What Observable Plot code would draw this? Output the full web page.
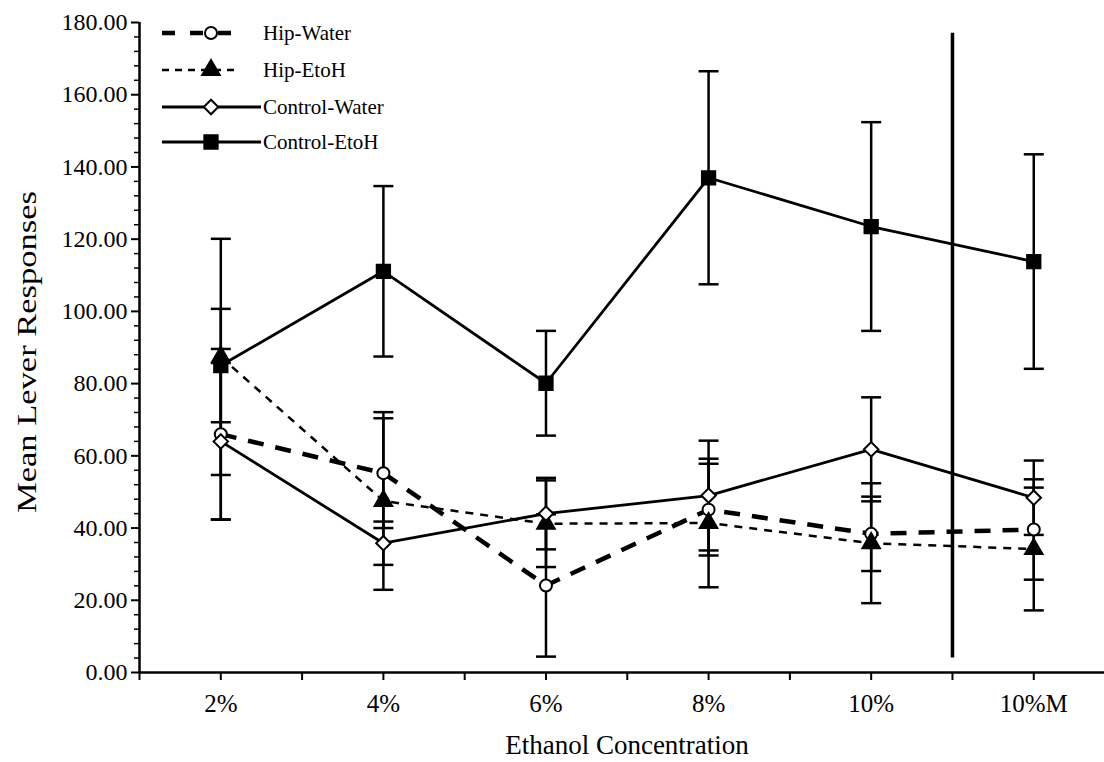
<!DOCTYPE html>
<html>
<head>
<meta charset="utf-8">
<script src="https://cdn.jsdelivr.net/npm/d3@7"></script>
<script src="https://cdn.jsdelivr.net/npm/@observablehq/plot@0.6"></script>
<style>
  html, body { margin: 0; padding: 0; background: #fff; }
  svg { display: block; }
</style>
</head>
<body>
<div id="chart"></div>
<script>
// ---- data ----
const categories = ["2%", "4%", "6%", "8%", "10%", "10%M"];
const seriesNames = ["Hip-Water", "Hip-EtoH", "Control-Water", "Control-EtoH"];
const hipWater        = [66.0, 55.2, 24.1, 45.1, 38.4, 39.6];
const hipWaterErr     = [23.6, 15.2, 19.7, 12.7, 10.3, 13.9];
const hipEtoh         = [87.4, 47.5, 41.2, 41.4, 35.8, 34.2];
const hipEtohErr      = [32.7, 24.6, 12.0, 17.8, 16.6, 17.0];
const controlWater    = [64.0, 35.8, 44.0, 49.0, 61.8, 48.4];
const controlWaterErr = [21.7, 6.0, 9.9, 15.2, 14.4, 10.3];
const controlEtoh     = [85.0, 111.1, 80.1, 137.0, 123.5, 113.8];
const controlEtohErr  = [15.7, 23.6, 14.5, 29.5, 28.9, 29.7];
const yTicks = [0, 20, 40, 60, 80, 100, 120, 140, 160, 180];
const xTitle = "Ethanol Concentration";
const yTitle = "Mean Lever Responses";
const dividerPosition = 4.5;      // between "10%" and "10%M"
const dividerExtent = [4, 177];

// ---- styles ----
const styles = {
  "Hip-Water":     {dash: "16,12", width: 4.5, symbol: "circle",   fill: "white", r: 6},
  "Hip-EtoH":      {dash: "8,7",   width: 2.5, symbol: "triangle", fill: "black", r: 6.5},
  "Control-Water": {dash: null,    width: 2.8, symbol: "diamond2", fill: "white", r: 6.5},
  "Control-EtoH":  {dash: null,    width: 2.8, symbol: "square",   fill: "black", r: 7.5}
};
const allValues = [hipWater, hipEtoh, controlWater, controlEtoh];
const allErrors = [hipWaterErr, hipEtohErr, controlWaterErr, controlEtohErr];

const rows = [];
seriesNames.forEach((s, k) => categories.forEach((c, i) => {
  rows.push({series: s, i, cat: c, v: allValues[k][i], e: allErrors[k][i]});
}));

const capSymbol = {
  draw(context, size) {
    const r = Math.sqrt(size / Math.PI);
    context.moveTo(-r, 0);
    context.lineTo(r, 0);
  }
};

const font = "'Liberation Serif', 'Times New Roman', serif";

const marks = [];
marks.push(Plot.ruleX([-0.5], {y1: 0, y2: 180, stroke: "black", strokeWidth: 2.5}));
marks.push(Plot.axisY({ticks: yTicks, tickFormat: d3.format(".2f"), tickSize: 8, tickPadding: 4,
  fontSize: 24, label: null, strokeWidth: 2}));
marks.push(Plot.axisY({ticks: d3.range(0, 181, 4).filter(v => v % 20 !== 0), tickFormat: () => "",
  tickSize: 5, label: null, strokeWidth: 1.5}));
marks.push(Plot.axisX({ticks: d3.range(-0.5, 5.01, 0.5),
  tickFormat: d => Number.isInteger(d) ? categories[d] : "",
  tickSize: 8, tickPadding: 14, fontSize: 25, label: null, strokeWidth: 2}));
marks.push(Plot.ruleY([0], {x1: -0.5, x2: 5.5, stroke: "black", strokeWidth: 2.5}));

marks.push(Plot.ruleX([dividerPosition], {y1: dividerExtent[0], y2: dividerExtent[1], stroke: "black", strokeWidth: 3.5}));

// error bars
marks.push(Plot.ruleX(rows, {x: "i", y1: d => d.v - d.e, y2: d => d.v + d.e, stroke: "black", strokeWidth: 2.5}));
marks.push(Plot.dot(rows, {x: "i", y: d => d.v + d.e, symbol: capSymbol, r: 10, stroke: "black", strokeWidth: 2.5, fill: "none"}));
marks.push(Plot.dot(rows, {x: "i", y: d => d.v - d.e, symbol: capSymbol, r: 10, stroke: "black", strokeWidth: 2.5, fill: "none"}));

// lines
for (const s of seriesNames) {
  const st = styles[s];
  marks.push(Plot.line(rows.filter(d => d.series === s), {x: "i", y: "v", stroke: "black",
    strokeWidth: st.width, strokeDasharray: st.dash || undefined, strokeLinecap: "butt"}));
}
// markers
for (const s of seriesNames) {
  const st = styles[s];
  marks.push(Plot.dot(rows.filter(d => d.series === s), {x: "i", y: "v", symbol: st.symbol, r: st.r,
    fill: st.fill, stroke: "black", strokeWidth: 2}));
}

const chart = Plot.plot({
  width: 1104,
  height: 762,
  marginLeft: 139,
  marginRight: 0,
  marginTop: 22,
  marginBottom: 90,
  x: {domain: [-0.5, 5.435], axis: null},
  y: {domain: [0, 180], axis: null},
  style: {fontFamily: font, background: "white", color: "black", overflow: "visible"},
  marks
});
document.getElementById("chart").appendChild(chart);

const svg = d3.select(chart);
// axis titles
svg.append("text").attr("x", 627).attr("y", 745).attr("dy", "0.35em")
  .attr("text-anchor", "middle").attr("font-family", font).attr("font-size", 27).text(xTitle);
svg.append("text").attr("transform", "translate(27,352) rotate(-90)").attr("dy", "0.35em")
  .attr("text-anchor", "middle").attr("font-family", font).attr("font-size", 27)
  .attr("textLength", 322).attr("lengthAdjust", "spacingAndGlyphs").text(yTitle);

// ---- legend (inside the plot, top-left) ----
const legendRows = [33, 70, 107, 142];
const symbolMap = {circle: d3.symbolCircle, triangle: d3.symbolTriangle, diamond2: d3.symbolDiamond2, square: d3.symbolSquare};
const lg = svg.append("g").attr("font-family", font).attr("font-size", 21).attr("text-anchor", "start");
seriesNames.forEach((s, k) => {
  const st = styles[s];
  const y = legendRows[k];
  const x2 = st.dash ? 240 : 261;
  lg.append("line").attr("x1", 162).attr("x2", x2).attr("y1", y).attr("y2", y)
    .attr("stroke", "black").attr("stroke-width", st.width)
    .attr("stroke-dasharray", st.dash ? (k === 0 ? "13,15" : "7,6") : null);
  lg.append("path").attr("d", d3.symbol(symbolMap[st.symbol], st.r * st.r * Math.PI)())
    .attr("transform", `translate(211,${y})`).attr("fill", st.fill).attr("stroke", "black").attr("stroke-width", 2);
  lg.append("text").attr("x", 263).attr("y", y).attr("dy", "0.35em").attr("text-anchor", "start").text(s);
});
</script>
</body>
</html>
